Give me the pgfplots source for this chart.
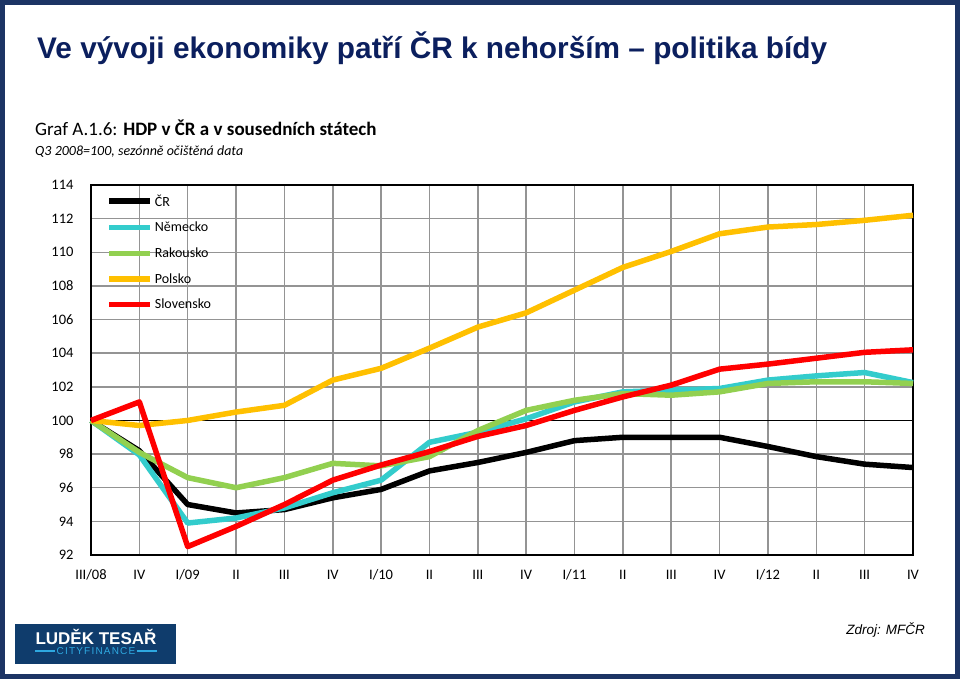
\documentclass[border=0pt]{standalone}
\usepackage{fontspec}
\setmainfont{Liberation Sans}
\newfontfamily\carlito{Carlito}
\usepackage{pgfplots}
\usepackage{pgfplotstable}
\pgfplotsset{compat=1.18}
\definecolor{navy}{HTML}{0B1F5E}
\definecolor{frame}{HTML}{1C3464}
\definecolor{cCR}{HTML}{000000}
\definecolor{cDE}{HTML}{33CCCC}
\definecolor{cAT}{HTML}{92D050}
\definecolor{cPL}{HTML}{FFC000}
\definecolor{cSK}{HTML}{FF0000}
\definecolor{logo}{HTML}{0F3C6C}
\definecolor{logoblue}{HTML}{2EA8E0}
\pgfplotstableread{
x cr de at pl sk
0 100 100 100 100 100
1 98.2 97.95 98.1 99.7 101.1
2 95.0 93.9 96.6 100.0 92.5
3 94.5 94.2 96.0 100.5 93.7
4 94.7 94.8 96.6 100.9 95.0
5 95.4 95.7 97.45 102.4 96.45
6 95.9 96.45 97.3 103.1 97.35
7 97.0 98.7 97.85 104.3 98.15
8 97.5 99.3 99.4 105.55 99.05
9 98.1 100.1 100.6 106.4 99.7
10 98.8 101.1 101.2 107.75 100.6
11 99.0 101.7 101.6 109.1 101.4
12 99.0 101.8 101.5 110.05 102.1
13 99.0 101.9 101.7 111.1 103.05
14 98.45 102.4 102.2 111.5 103.35
15 97.85 102.65 102.3 111.65 103.7
16 97.4 102.85 102.3 111.9 104.05
17 97.2 102.25 102.2 112.2 104.2
}\data
\begin{document}
\begin{tikzpicture}[x=1pt,y=1pt]
\fill[white] (0,0) rectangle (960,679);
\draw[frame, line width=5pt] (2.5,2.5) rectangle (957.5,676.5);
\node[anchor=base west, inner sep=0, text=navy, font=\bfseries\fontsize{29.8}{30}\selectfont] at (37,620) {Ve vývoji ekonomiky patří ČR k nehorším – politika bídy};
\node[anchor=base west, inner sep=0, font=\carlito\fontsize{19}{19}\selectfont] at (35,543) {Graf A.1.6: \textbf{HDP v ČR a v sousedních státech}};
\node[anchor=base west, inner sep=0, font=\carlito\itshape\fontsize{14}{14}\selectfont] at (35,523) {Q3 2008=100, sezónně očištěná data};
\begin{axis}[
  at={(91pt,124pt)}, anchor=south west,
  width=822pt, height=370pt, scale only axis,
  xmin=0, xmax=17, ymin=92, ymax=114,
  ytick={92,94,...,114},
  xtick={0,...,17},
  xticklabels={III/08,IV,I/09,II,III,IV,I/10,II,III,IV,I/11,II,III,IV,I/12,II,III,IV},
  grid=major,
  grid style={color=black!42, line width=1.5pt},
  axis line style={black, line width=1.5pt},
  major tick length=0pt,
  ticklabel style={font=\carlito\fontsize{14.5}{14.5}\selectfont},
  /pgf/number format/assume math mode=true,
  yticklabel style={xshift=-14pt},
  xticklabel style={text height=10pt, text depth=3pt, yshift=-11pt},
  legend style={at={(axis description cs:0.016,0.985)}, anchor=north west, draw=none, fill=none,
    font=\carlito\fontsize{14}{14}\selectfont, row sep=10.4pt, inner sep=2pt},
  legend cell align=left,
  legend image code/.code={\draw[#1] (0pt,0pt) -- (41pt,0pt);},
  clip=false,
]
\addplot[black, line width=1.5pt, forget plot] coordinates {(0,100) (17,100)};
\addplot[cCR, line width=5.5pt, line join=round] table[x=x,y=cr] {\data};
\addlegendentry{ČR}
\addplot[cDE, line width=5.5pt, line join=round] table[x=x,y=de] {\data};
\addlegendentry{Německo}
\addplot[cAT, line width=5.5pt, line join=round] table[x=x,y=at] {\data};
\addlegendentry{Rakousko}
\addplot[cPL, line width=5.5pt, line join=round] table[x=x,y=pl] {\data};
\addlegendentry{Polsko}
\addplot[cSK, line width=5.5pt, line join=round] table[x=x,y=sk] {\data};
\addlegendentry{Slovensko}
\end{axis}
% logo
\fill[logo] (15,15) rectangle (176,55);
\node[anchor=base, inner sep=0, text=white, font=\bfseries\fontsize{17}{17}\selectfont] at (96,34) {LUDĚK TESAŘ};
\node[anchor=base, inner sep=0, text=logoblue, font=\fontsize{10}{10}\selectfont\addfontfeature{LetterSpace=12}] (cf) at (96,24.5) {CITYFINANCE};
\draw[logoblue, line width=2pt] (35,28) -- ([xshift=-1pt]cf.west |- 0,28);
\draw[logoblue, line width=2pt] ([xshift=1pt]cf.east |- 0,28) -- (157,28);
\node[anchor=base east, inner sep=0, font=\itshape\fontsize{13.5}{13.5}\selectfont] at (925,44) {Zdroj: MFČR};
\end{tikzpicture}
\end{document}
